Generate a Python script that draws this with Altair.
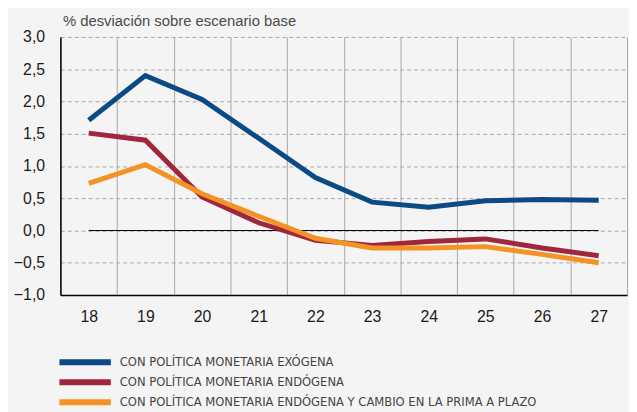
import altair as alt
import pandas as pd

years = ["18", "19", "20", "21", "22", "23", "24", "25", "26", "27"]
series_names = [
    "CON POLÍTICA MONETARIA EXÓGENA",
    "CON POLÍTICA MONETARIA ENDÓGENA",
    "CON POLÍTICA MONETARIA ENDÓGENA Y CAMBIO EN LA PRIMA A PLAZO",
]
exogena = [1.71, 2.40, 2.03, 1.43, 0.82, 0.44, 0.36, 0.46, 0.48, 0.47]
endogena = [1.51, 1.40, 0.52, 0.12, -0.15, -0.23, -0.17, -0.13, -0.27, -0.39]
endogena_prima = [0.73, 1.02, 0.57, 0.22, -0.12, -0.27, -0.27, -0.25, -0.37, -0.50]
colors = ["#0b4a84", "#a0263c", "#f39325"]
y_ticks = [-1.0, -0.5, 0.0, 0.5, 1.0, 1.5, 2.0, 2.5, 3.0]

rows = []
for name, vals in zip(series_names, [exogena, endogena, endogena_prima]):
    for i, (yr, v) in enumerate(zip(years, vals)):
        rows.append({"year": yr, "value": v, "serie": name, "order": i})
df = pd.DataFrame(rows)

zero_df = pd.DataFrame({"start": [years[0]], "end": [years[-1]], "zero": [0.0]})

x_scale = alt.Scale(domain=years, paddingInner=0, paddingOuter=0)
y_scale = alt.Scale(domain=[-1.0, 3.0], nice=False)

x_axis = alt.Axis(title=None, labelAngle=0, grid=True, tickBand="extent",
                  gridColor="#a8a8a8", gridWidth=1, domainColor="#000000",
                  domainWidth=1.5, ticks=False,
                  labelFont="Liberation Sans", labelFontSize=16,
                  labelColor="#1a1a1a", labelPadding=14)
y_axis = alt.Axis(values=y_ticks, tickCount=12, title="% desviación sobre escenario base",
                  titleAngle=0, titleX=2, titleY=-17, titleAlign="left",
                  titleBaseline="middle", titleFont="Liberation Sans",
                  titleFontSize=15, titleFontWeight="normal", titleColor="#4a4a4a",
                  grid=True, gridDash=[4, 3], gridColor="#a8a8a8", gridWidth=1,
                  domainColor="#000000", domainWidth=1.5, ticks=False,
                  labelOverlap=False,
                  labelPadding=16, labelFont="Liberation Sans", labelFontSize=16,
                  labelColor="#1a1a1a",
                  labelExpr="replace(format(datum.value, '.1f'), '.', ',')")

legend_font = "'DejaVu Sans Condensed', 'Liberation Sans', sans-serif"

zero_rule = alt.Chart(zero_df).mark_rule(color="#000000", strokeWidth=1).encode(
    x=alt.X("start:O", scale=x_scale, sort=years, axis=x_axis),
    x2="end:O",
    y=alt.Y("zero:Q", scale=y_scale, axis=y_axis),
)

lines = alt.Chart(df).mark_line(strokeWidth=5, strokeJoin="miter").encode(
    x=alt.X("year:O", scale=x_scale, sort=years, axis=x_axis),
    y=alt.Y("value:Q", scale=y_scale, axis=y_axis),
    color=alt.Color("serie:N",
                    scale=alt.Scale(domain=series_names, range=colors),
                    legend=alt.Legend(title=None, orient="none", legendX=-4, legendY=321,
                                      direction="vertical", symbolType="stroke",
                                      symbolStrokeWidth=6, symbolSize=2704, clipHeight=16,
                                      labelFont=legend_font, labelFontSize=13,
                                      labelColor="#444444", labelOffset=6, rowPadding=4.2,
                                      labelLimit=700)),
    order="order:Q",
)

chart = alt.layer(zero_rule, lines).properties(
    width=573,
    height=261,
    autosize=alt.AutoSizeParams(type="none"),
    padding={"left": 53, "top": 27, "right": 2, "bottom": 116},
    background="#f4f4f4",
).configure_view(stroke=None)

chart.save("out.html", embed_options={"renderer": "svg", "actions": False})
